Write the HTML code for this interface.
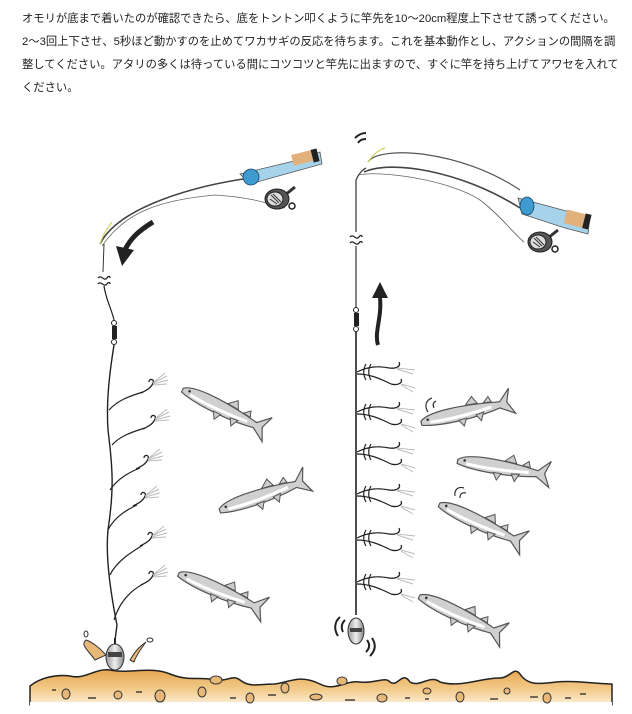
<!DOCTYPE html>
<html><head><meta charset="utf-8"><style>
html,body{margin:0;padding:0;background:#fff;width:632px;height:714px;overflow:hidden}
.t{position:absolute;left:22px;top:8px;width:610px;font-family:"Liberation Sans","Noto Sans CJK JP",sans-serif;font-size:11.3px;line-height:23px;color:#222;white-space:nowrap}
svg{position:absolute;left:0;top:0}
</style></head><body>
<div class="t">オモリが底まで着いたのが確認できたら、底をトントン叩くように竿先を10〜20cm程度上下させて誘ってください。<br>2〜3回上下させ、5秒ほど動かすのを止めてワカサギの反応を待ちます。これを基本動作とし、アクションの間隔を調<br>整してください。アタリの多くは待っている間にコツコツと竿先に出ますので、すぐに竿を持ち上げてアワセを入れて<br>ください。</div>
<svg width="632" height="714" viewBox="0 0 632 714">
<defs>
<linearGradient id="g" x1="0" y1="0" x2="0" y2="1"><stop offset="0" stop-color="#e6a650"/><stop offset="0.6" stop-color="#f4cf91"/><stop offset="1" stop-color="#fdf0dc"/></linearGradient>
<linearGradient id="sk" x1="0" y1="0" x2="1" y2="0"><stop offset="0" stop-color="#999"/><stop offset="0.5" stop-color="#eee"/><stop offset="1" stop-color="#888"/></linearGradient>
<g id="fish">
<path d="M-47,-2 C-38,-10 -5,-8 22,-4 L34,-2 L46,-13 L41,0 L47,13 L33,4 C10,8 -28,8 -47,2 Z" fill="#d0d0d0" stroke="#555" stroke-width="1.2"/>
<path d="M-38,1 C-20,3 0,3 25,1" stroke="#fff" stroke-width="3" fill="none"/>
<path d="M0,-7 L8,-14 L12,-6 Z M-10,6 L-6,13 L-2,6 Z M8,5 L12,12 L16,4 Z M18,-5 L24,-10 L26,-4 Z" fill="#ccc" stroke="#555" stroke-width="1"/>
<circle cx="-40" cy="-2" r="1.3" fill="#333"/>
</g>
<g id="hk">
<path d="M0,0 C6,-3 10,-5 12,-10 C14,-14 8,-15 8,-11" fill="none" stroke="#222" stroke-width="1.3"/>
<path d="M12,-10 L26,-17 M12,-9 L27,-13 M12,-8 L26,-9 M13,-11 L24,-20" stroke="#bbb" stroke-width="1"/>
</g>
<g id="rb">
<path d="M0,0 C12,-6 22,-6 32,-4 M0,2 C12,2 22,6 34,12" fill="none" stroke="#222" stroke-width="1.2"/>
<path d="M9,-8 C6,-3 6,3 9,8 M14,-8 C11,-3 11,3 14,8" fill="none" stroke="#222" stroke-width="1.2"/>
<path d="M32,-4 C40,-3 44,-6 42,-10" fill="none" stroke="#222" stroke-width="1.3"/>
<path d="M34,12 C42,14 46,10 44,7" fill="none" stroke="#222" stroke-width="1.3"/>
<path d="M40,-4 L58,-2 M40,-3 L56,2 M44,13 L56,20 M44,12 L58,16" stroke="#bbb" stroke-width="1"/>
</g>
<g id="reel">
<path d="M18,-12 L8,-4" stroke="#333" stroke-width="3"/>
<ellipse cx="0" cy="0" rx="12" ry="10" fill="#555" stroke="#222"/>
<ellipse cx="-2" cy="0" rx="8" ry="7" fill="#ddd" stroke="#222"/>
<path d="M-6,-4 L2,4 M-4,-5 L4,3 M-7,0 L0,5" stroke="#333" stroke-width="1"/>
<circle cx="15" cy="7" r="3" fill="#fff" stroke="#222" stroke-width="1.5"/>
</g>
<g id="wv" fill="none" stroke="#222" stroke-width="1.3">
<path d="M-6,0 C-3,-4 0,4 3,0 C4,-2 6,-2 6,0 M-6,6 C-3,2 0,10 3,6 C4,4 6,4 6,6"/>
</g>
</defs>

<path d="M30,686 C40,678 55,674 70,676 C85,680 95,668 110,670 C130,674 150,666 170,674 C190,682 200,676 215,680 C228,682 232,674 240,680 C250,688 260,684 275,684 C290,682 300,674 320,684 C335,692 345,680 360,682 C375,684 385,676 390,682 C398,688 402,670 410,682 C420,688 430,674 440,682 C460,688 480,678 500,678 C510,678 514,666 520,674 C528,686 540,684 556,682 C575,680 595,684 612,684 L612,705 L30,705 Z" fill="url(#g)" stroke="#222" stroke-width="1.5" stroke-linejoin="round"/>
<rect x="30" y="702" width="582" height="12" fill="#fff"/>
<g fill="#e8b878" stroke="#333" stroke-width="1">
<ellipse cx="66" cy="694" rx="4" ry="5"/><ellipse cx="118" cy="695" rx="4" ry="4"/><ellipse cx="160" cy="696" rx="5" ry="6"/><ellipse cx="202" cy="692" rx="4" ry="5"/><ellipse cx="250" cy="698" rx="4" ry="5"/><ellipse cx="285" cy="688" rx="4" ry="5"/><ellipse cx="316" cy="697" rx="6" ry="3"/><ellipse cx="382" cy="698" rx="5" ry="4"/><ellipse cx="460" cy="697" rx="4" ry="5"/><ellipse cx="547" cy="698" rx="4" ry="5"/><ellipse cx="216" cy="680" rx="6" ry="4"/><ellipse cx="342" cy="681" rx="5" ry="4"/><ellipse cx="507" cy="691" rx="3" ry="3"/><ellipse cx="427" cy="691" rx="4" ry="3"/>
</g>
<g stroke="#222" stroke-width="1.3"><path d="M52,690 h4 M88,698 h8 M136,692 h6 M230,698 h6 M268,695 h8 M345,700 h10 M405,698 h5 M425,699 h4 M490,699 h8 M530,697 h8 M565,698 h6 M580,694 h6"/></g>

<path d="M100,244 C120,205 200,185 250,178 L300,165" fill="none" stroke="#444" stroke-width="1.6"/>
<path d="M102,246 C125,212 160,200 215,195 C250,197 270,204 285,208" fill="none" stroke="#666" stroke-width="0.8"/>
<path d="M100,244 C104,232 108,228 112,222" stroke="#cfd060" stroke-width="1.2" fill="none"/>
<path d="M240,174 L298,160 L320,152 L322,164 L300,170 L250,184 Z" fill="#a6d3ea" stroke="#555" stroke-width="0.8"/>
<rect x="292" y="152" width="24" height="11" fill="#e2b07a" transform="rotate(-14 304 157)"/>
<rect x="312" y="149" width="6" height="13" fill="#222" transform="rotate(-14 315 155)"/>
<ellipse cx="251" cy="177" rx="8" ry="8" fill="#3d9bd0" stroke="#246" stroke-width="0.8"/>
<use href="#reel" x="277" y="199"/>
<path d="M104,244 L103,272" stroke="#333" stroke-width="1"/>
<use href="#wv" x="104" y="278"/>
<path d="M104,286 C106,300 112,310 114,320" stroke="#222" stroke-width="1.2" fill="none"/>
<circle cx="114" cy="323" r="2.5" fill="#fff" stroke="#222"/><rect x="112" y="326" width="5" height="13" fill="#222"/><circle cx="114" cy="342" r="2.5" fill="#fff" stroke="#222"/>
<path d="M114,345 C110,370 106,400 108,430 C113,470 114,490 108,530 C105,560 112,600 117,625 L115,640" fill="none" stroke="#222" stroke-width="1.4"/>
<g fill="none" stroke="#222" stroke-width="1.2">
<path d="M109,410 C118,400 130,396 143,392"/><path d="M112,445 C120,436 132,432 145,428"/><path d="M110,490 C118,478 130,472 140,468"/><path d="M108,530 C114,518 126,510 137,505"/><path d="M110,575 C116,562 130,553 143,545"/><path d="M114,620 C120,600 132,590 143,584"/>
</g>
<use href="#hk" x="141" y="393"/><use href="#hk" x="143" y="429"/><use href="#hk" x="136" y="469"/><use href="#hk" x="133" y="506"/><use href="#hk" x="140" y="546"/><use href="#hk" x="141" y="585"/>
<path d="M95,660 C88,650 80,645 86,640 C92,642 100,648 106,655 Z M130,660 C136,650 140,646 146,642 C140,650 136,656 134,662 Z" fill="#e8b878" stroke="#333"/>
<ellipse cx="86" cy="634" rx="2" ry="3" fill="#fff" stroke="#333"/><ellipse cx="150" cy="640" rx="3" ry="2" fill="#fff" stroke="#333"/>
<path d="M115,638 L115,644" stroke="#222" stroke-width="2"/>
<ellipse cx="115" cy="657" rx="9" ry="13" fill="url(#sk)" stroke="#333"/>
<rect x="108" y="652" width="14" height="5" fill="#444"/>
<path d="M153,222 C140,230 130,238 124,252" fill="none" stroke="#222" stroke-width="5"/>
<path d="M116,246 L122,266 L134,250 Z" fill="#222"/>

<path d="M368,162 C380,145 460,150 520,190" fill="none" stroke="#555" stroke-width="1.2"/>
<path d="M364,172 C390,160 460,170 520,208" fill="none" stroke="#444" stroke-width="1.6"/>
<path d="M358,175 C380,170 450,180 480,200 C500,215 515,235 524,242" fill="none" stroke="#666" stroke-width="0.8"/>
<path d="M368,162 C372,156 378,150 385,148" stroke="#cfd060" stroke-width="1.2" fill="none"/>
<path d="M356,180 C358,175 362,170 366,168" fill="none" stroke="#444" stroke-width="1.3"/>
<path d="M518,198 L570,212 L590,216 L588,234 L565,228 L522,214 Z" fill="#a6d3ea" stroke="#555" stroke-width="0.8"/>
<rect x="565" y="212" width="22" height="14" fill="#e2b07a" transform="rotate(14 576 219)"/>
<rect x="584" y="214" width="6" height="15" fill="#222" transform="rotate(14 587 221)"/>
<ellipse cx="527" cy="206" rx="7" ry="9" fill="#3d9bd0" stroke="#246" stroke-width="0.8"/>
<use href="#reel" x="540" y="242"/>
<path d="M355,138 C358,135 362,133 366,133 M358,143 C360,140 362,139 366,139" fill="none" stroke="#222" stroke-width="2"/>
<path d="M356,180 L356,232" stroke="#333" stroke-width="1.2"/>
<use href="#wv" x="356" y="237"/>
<path d="M356,246 L356,310" stroke="#333" stroke-width="1.2"/>
<circle cx="356" cy="310" r="2.5" fill="#fff" stroke="#222"/><rect x="354" y="313" width="5" height="13" fill="#222"/><circle cx="356" cy="329" r="2.5" fill="#fff" stroke="#222"/>
<path d="M356,332 L356,615" stroke="#222" stroke-width="1.6"/>
<use href="#rb" x="357" y="372"/><use href="#rb" x="357" y="412"/><use href="#rb" x="357" y="452"/><use href="#rb" x="357" y="494"/><use href="#rb" x="357" y="538"/><use href="#rb" x="357" y="582"/>
<ellipse cx="356" cy="631" rx="8" ry="13" fill="url(#sk)" stroke="#333"/>
<rect x="350" y="628" width="12" height="4" fill="#444"/>
<path d="M340,617 C334,622 334,630 338,636 M345,620 C341,624 341,628 343,632" fill="none" stroke="#222" stroke-width="2"/>
<path d="M372,638 C376,644 376,650 370,656 M367,640 C370,644 370,648 366,652" fill="none" stroke="#222" stroke-width="2"/>
<path d="M378,345 C374,332 382,318 380,298" fill="none" stroke="#222" stroke-width="4"/>
<path d="M372,298 L380,282 L388,298 Z" fill="#222"/>
<g fill="none" stroke="#333" stroke-width="1.2"><path d="M428,412 C424,406 426,400 432,398 M434,408 C432,404 434,402 436,401"/><path d="M455,496 C454,490 458,486 464,488 M460,498 C460,494 462,492 466,493"/></g>

<use href="#fish" transform="translate(225,410) rotate(25)"/>
<use href="#fish" transform="translate(264,495) rotate(-20)"/>
<use href="#fish" transform="translate(222,592) rotate(22)"/>
<use href="#fish" transform="translate(467,412) rotate(-14)"/>
<use href="#fish" transform="translate(504,468) rotate(8)"/>
<use href="#fish" transform="translate(482,524) rotate(24)"/>
<use href="#fish" transform="translate(462,616) rotate(24)"/>
</svg>
</body></html>
